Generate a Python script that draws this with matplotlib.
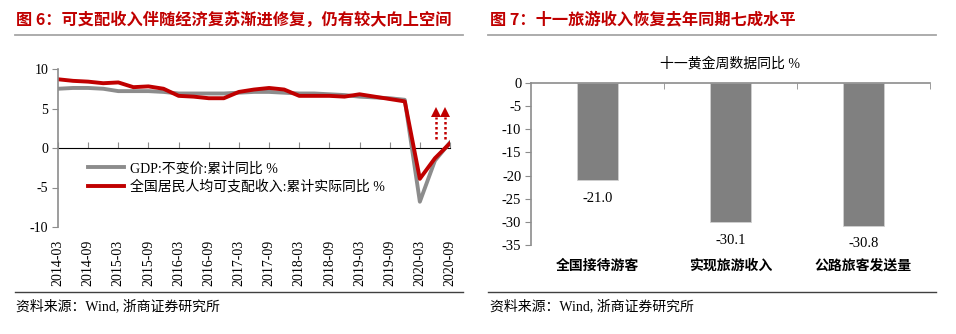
import numpy as np
import matplotlib
matplotlib.use('Agg')
import matplotlib.pyplot as plt
from matplotlib.lines import Line2D

plt.rcParams['font.family'] = ['Liberation Serif', 'Noto Sans CJK SC']
plt.rcParams['axes.unicode_minus'] = False

# ---- data: left chart (quarterly, cumulative y/y %) ----
quarters = ['2014-03', '2014-06', '2014-09', '2014-12',
            '2015-03', '2015-06', '2015-09', '2015-12',
            '2016-03', '2016-06', '2016-09', '2016-12',
            '2017-03', '2017-06', '2017-09', '2017-12',
            '2018-03', '2018-06', '2018-09', '2018-12',
            '2019-03', '2019-06', '2019-09', '2019-12',
            '2020-03', '2020-06', '2020-09']
gdp = [7.5, 7.6, 7.6, 7.5, 7.2, 7.2, 7.2, 7.1, 6.9, 6.9, 6.9, 6.9, 7.0, 7.1,
       7.1, 7.0, 6.9, 6.9, 6.8, 6.7, 6.5, 6.4, 6.3, 6.1, -6.8, -1.6, 0.7]
income = [8.7, 8.5, 8.4, 8.2, 8.3, 7.7, 7.8, 7.5, 6.6, 6.5, 6.3, 6.3, 7.1, 7.4,
          7.6, 7.4, 6.6, 6.6, 6.6, 6.5, 6.8, 6.5, 6.2, 5.9, -3.9, -1.3, 0.6]
gdp_label = 'GDP:不变价:累计同比 %'
income_label = '全国居民人均可支配收入:累计实际同比 %'

# ---- data: right chart ----
categories = ['全国接待游客', '实现旅游收入', '公路旅客发送量']
yoy = [-21.0, -30.1, -30.8]

RED = '#C00000'
AXIS = '#8C8C8C'
W, H = 956, 334

fig = plt.figure(figsize=(W / 100, H / 100), dpi=100)


def fx(px):
    return px / W


def fy(py):
    return 1 - py / H


# titles, rules and source notes
fig.text(fx(16), fy(20), '图 6：可支配收入伴随经济复苏渐进修复，仍有较大向上空间',
         color=RED, fontsize=11.7, fontweight='bold', va='center',
         family=['Noto Sans CJK SC'])
fig.text(fx(490), fy(20), '图 7：十一旅游收入恢复去年同期七成水平',
         color=RED, fontsize=11.7, fontweight='bold', va='center',
         family=['Noto Sans CJK SC'])
for x0, x1 in [(15, 463), (488, 936)]:
    fig.add_artist(Line2D([fx(x0), fx(x1)], [fy(35), fy(35)], color='#A6A6A6',
                          lw=1.3, transform=fig.transFigure))
    fig.add_artist(Line2D([fx(x0), fx(x1)], [fy(292), fy(292)], color='#404040',
                          lw=1.0, transform=fig.transFigure))
fig.text(fx(16), fy(306), '资料来源：Wind, 浙商证券研究所', fontsize=10, va='center')
fig.text(fx(490), fy(306), '资料来源：Wind, 浙商证券研究所', fontsize=10, va='center')

# ---- left chart ----
ax = fig.add_axes([fx(58), fy(227), fx(450) - fx(58), fy(69) - fy(227)])
x = np.arange(len(quarters))
ax.plot(x, gdp, color=AXIS, lw=2.8, label=gdp_label, solid_joinstyle='round')
ax.plot(x, income, color=RED, lw=2.8, label=income_label, solid_joinstyle='round')
ax.set_xlim(0, len(quarters) - 1)
ax.set_ylim(-10, 10)
ax.set_yticks([10, 5, 0, -5, -10])
ax.tick_params(axis='y', direction='out', length=4, color=AXIS, labelsize=10, pad=3)
ax.set_xticks(x[::2])
ax.set_xticklabels(quarters[::2], rotation=90, fontsize=10)
ax.tick_params(axis='x', length=0, pad=9)
for s in ['top', 'right', 'bottom']:
    ax.spines[s].set_visible(False)
ax.spines['left'].set_color(AXIS)
ax.spines['left'].set_linewidth(1.2)

# category axis crosses at zero
zero_ax = ax.secondary_xaxis(0.5)
zero_ax.set_xticks(x[::2])
zero_ax.set_xticklabels([])
zero_ax.tick_params(direction='out', length=4, color=AXIS)
zero_ax.spines['bottom'].set_color(AXIS)
zero_ax.spines['bottom'].set_linewidth(1.2)

# dotted upward arrows near the recovery
for ax_x in [25.1, 25.65]:
    ax.plot([ax_x, ax_x], [1.2, 3.9], color=RED, lw=1.8, ls=(0, (1, 1)))
    ax.plot(ax_x, 4.5, marker='^', color=RED, ms=7, mew=0)

ax.legend(loc='upper left', bbox_to_anchor=(fx(88), fy(162)),
          bbox_transform=fig.transFigure, frameon=False, fontsize=10,
          handlelength=2.6, handletextpad=0.4, borderpad=0, borderaxespad=0,
          labelspacing=0.35)

# ---- right chart ----
bx = fig.add_axes([fx(531), fy(245), fx(930) - fx(531), fy(83) - fy(245)])
pos = np.arange(len(categories))
bx.bar(pos, yoy, width=0.31, color='#808080', edgecolor='#D0D0D0', lw=0.6)
for p, v in zip(pos, yoy):
    bx.annotate(f'{v:.1f}', (p, v), xytext=(0, -13), textcoords='offset points',
                ha='center', va='center', fontsize=10.5)
bx.set_xlim(-0.5, len(categories) - 0.5)
bx.set_ylim(-35, 0)
bx.set_yticks(np.arange(0, -36, -5))
bx.tick_params(axis='y', direction='out', length=4, color=AXIS, labelsize=10.5, pad=3)
bx.set_xticks(pos)
bx.set_xticklabels(categories, fontsize=10, fontweight='bold',
                   family=['Noto Sans CJK SC'])
bx.tick_params(axis='x', which='major', length=0, pad=10)
bx.set_xticks(pos + 0.5, minor=True)
bx.tick_params(axis='x', which='minor', top=True, bottom=False, direction='in',
               length=4, color=AXIS)
for s in ['right', 'bottom']:
    bx.spines[s].set_visible(False)
for s in ['left', 'top']:
    bx.spines[s].set_color(AXIS)
    bx.spines[s].set_linewidth(1.2)
bx.set_title('十一黄金周数据同比 %', fontsize=10, pad=11)

fig.savefig('out.png', dpi=100)
